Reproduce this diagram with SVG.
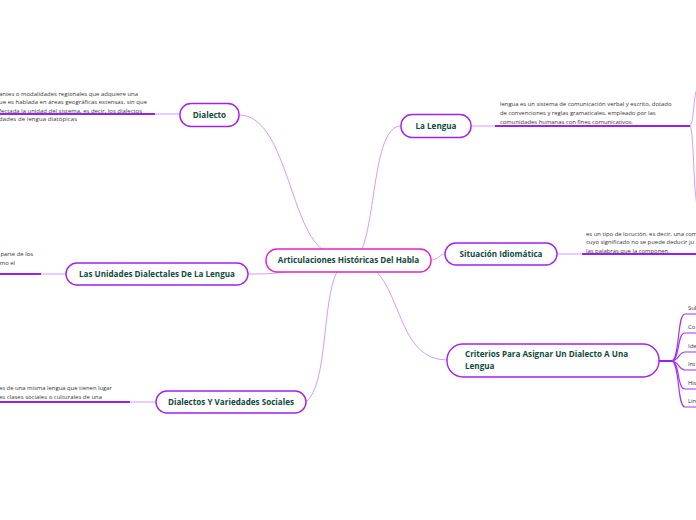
<svg xmlns="http://www.w3.org/2000/svg" width="696" height="520" viewBox="0 0 696 520">
<style>
.node rect{fill:#fff;stroke:#a41ff0;stroke-width:1.4}
#central rect{stroke:#e223c4}
.nt{font-family:"Open Sans","Noto Sans",sans-serif;font-weight:bold;font-size:8.1px;fill:#0f4a3b}
.dt{font-family:"Open Sans","Noto Sans",sans-serif;font-size:5.9px;fill:#333}
.con{fill:none;stroke:#d49cfb;stroke-width:1}
.ul{fill:none;stroke:#9d1ff0;stroke-width:2}
.sub{fill:none;stroke:#a633f0;stroke-width:1.2}
</style>
<rect width="696" height="520" fill="#fff"/>
<g id="connectors">
<path class="con" d="M239,115 C285,115 290,225 322,249"/>
<path class="con" d="M362,249 C376,215 374,126 401,126"/>
<path class="con" d="M431,260 C438,260 440,254 445,254"/>
<path class="con" d="M285,272 C272,274 262,274 248,274"/>
<path class="con" d="M337,272 C322,300 328,385 306,402"/>
<path class="con" d="M377,272 C402,300 402,360 447,360"/>
<path class="con" d="M155,114 L180,114"/>
<path class="con" d="M471,126 L495,126"/>
<path class="con" d="M557,254 L582,254"/>
<path class="con" d="M41,274 L66,274"/>
<path class="con" d="M130,402 L156,402"/>
<path class="con" d="M690,126 C694,122 693,100 697,88"/>
<path class="con" d="M690,126 C694,132 693,185 697,205"/>
<path class="ul" d="M0,114 L155,114"/>
<path class="ul" d="M495,126 L690,126"/>
<path class="ul" d="M582,254 L696,254"/>
<path class="ul" d="M0,274 L41,274"/>
<path class="ul" d="M0,402 L130,402"/>
<path class="ul" d="M659,361 L672,361"/>
<path class="sub" d="M672,361 C680,358 677,314 685,314 L696,314"/>
<path class="sub" d="M672,361 C680,359 677,333 685,333 L696,333"/>
<path class="sub" d="M672,361 C679,360 679,352 685,352 L696,352"/>
<path class="sub" d="M672,361 C679,362 679,370 685,370 L696,370"/>
<path class="sub" d="M672,361 C680,363 677,389 685,389 L696,389"/>
<path class="sub" d="M672,361 C680,364 677,407 685,407 L696,407"/>
</g>
<g id="central" class="node"><rect x="266" y="249" width="165" height="23" rx="11"/><text class="nt" x="348.5" y="263.3" text-anchor="middle">Articulaciones Históricas Del Habla</text></g>
<g id="dialecto" class="node"><rect x="180" y="103.5" width="59" height="23" rx="11"/><text class="nt" x="209.5" y="117.8" text-anchor="middle">Dialecto</text></g>
<g id="dialecto-text"><text class="dt" x="-1" y="95.5" textLength="139" lengthAdjust="spacing">antes o modalidades regionales que adquiere una</text><text class="dt" x="-1" y="104" textLength="148" lengthAdjust="spacing">ue es hablada en áreas geográficas extensas, sin que</text><text class="dt" x="-1" y="112.5" textLength="143" lengthAdjust="spacing">fectada la unidad del sistema, es decir, los dialectos</text><text class="dt" x="-1" y="121" textLength="78" lengthAdjust="spacing">dades de lengua diatópicas</text></g>
<g id="lalengua" class="node"><rect x="401" y="114.5" width="70" height="23" rx="11"/><text class="nt" x="436" y="128.8" text-anchor="middle">La Lengua</text></g>
<g id="lalengua-text"><text class="dt"><tspan x="500" y="106">lengua es un sistema de comunicación verbal y escrito, dotado</tspan><tspan x="500" y="115">de convenciones y reglas gramaticales, empleado por las</tspan><tspan x="500" y="124">comunidades humanas con fines comunicativos.</tspan></text></g>
<g id="situacion" class="node"><rect x="445" y="243" width="112" height="22" rx="11"/><text class="nt" x="501" y="256.8" text-anchor="middle">Situación Idiomática</text></g>
<g id="situacion-text"><text class="dt"><tspan x="586" y="235.5">es un tipo de locución, es decir, una com</tspan><tspan x="586" y="244">cuyo significado no se puede deducir ju</tspan><tspan x="586" y="252.5">las palabras que la componen.</tspan></text></g>
<g id="unidades" class="node"><rect x="66" y="263" width="182" height="22" rx="11"/><text class="nt" x="157" y="276.8" text-anchor="middle">Las Unidades Dialectales De La Lengua</text></g>
<g id="unidades-text"><text class="dt" text-anchor="end"><tspan x="33" y="255.5">parte de los</tspan><tspan x="15" y="264.5">como el</tspan></text></g>
<g id="sociales" class="node"><rect x="156" y="391" width="150" height="22" rx="11"/><text class="nt" x="231" y="404.8" text-anchor="middle">Dialectos Y Variedades Sociales</text></g>
<g id="sociales-text"><text class="dt" x="-1" y="389.5" textLength="113" lengthAdjust="spacing">es de una misma lengua que tienen lugar</text><text class="dt" x="-1" y="398.5" textLength="103" lengthAdjust="spacing">es clases sociales o culturales de una</text></g>
<g id="criterios" class="node"><rect x="447" y="344" width="212" height="33" rx="16"/><text class="nt"><tspan x="465" y="357">Criterios Para Asignar Un Dialecto A Una</tspan><tspan x="465" y="369">Lengua</tspan></text></g>
<g id="criterios-items"><text class="dt"><tspan x="688" y="310">Sub</tspan><tspan x="688" y="329">Co</tspan><tspan x="688" y="348">Ide</tspan><tspan x="688" y="366">Int</tspan><tspan x="688" y="385">His</tspan><tspan x="688" y="403">Lin</tspan></text></g>
</svg>
